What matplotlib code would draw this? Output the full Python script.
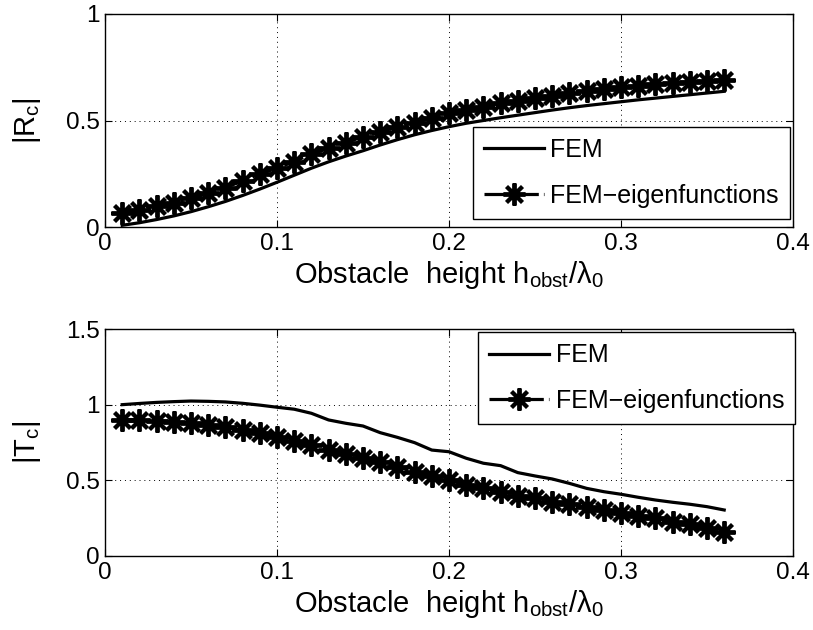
import numpy as np
import matplotlib
matplotlib.use("Agg")
import matplotlib.pyplot as plt

plt.rcParams['font.family'] = ['Liberation Sans', 'DejaVu Sans']
plt.rcParams['mathtext.fontset'] = 'custom'
plt.rcParams['mathtext.rm'] = 'Liberation Sans'
plt.rcParams['mathtext.it'] = 'Liberation Sans'
plt.rcParams['mathtext.bf'] = 'Liberation Sans:bold'

# ---- data ----
h = [round(0.01 * i, 2) for i in range(1, 37)]

R_fem = [0.008, 0.020, 0.035, 0.052, 0.072, 0.095, 0.120, 0.148, 0.178, 0.210,
         0.243, 0.276, 0.306, 0.333, 0.358, 0.385, 0.410, 0.433, 0.453, 0.471,
         0.487, 0.500, 0.513, 0.525, 0.537, 0.549, 0.560, 0.570, 0.579, 0.588,
         0.597, 0.605, 0.613, 0.621, 0.629, 0.637]
R_eig = [0.067, 0.080, 0.099, 0.114, 0.135, 0.158, 0.185, 0.216, 0.249, 0.276,
         0.307, 0.343, 0.369, 0.396, 0.424, 0.447, 0.471, 0.490, 0.510, 0.534,
         0.549, 0.565, 0.581, 0.593, 0.604, 0.615, 0.628, 0.638, 0.648, 0.656,
         0.663, 0.671, 0.677, 0.682, 0.687, 0.690]

T_fem = [1.000, 1.008, 1.015, 1.020, 1.024, 1.022, 1.018, 1.009, 0.997, 0.983,
         0.970, 0.943, 0.899, 0.877, 0.859, 0.815, 0.784, 0.749, 0.700, 0.689,
         0.646, 0.613, 0.597, 0.551, 0.529, 0.509, 0.480, 0.447, 0.425, 0.408,
         0.388, 0.370, 0.355, 0.342, 0.326, 0.304]
T_eig = [0.899, 0.899, 0.894, 0.888, 0.877, 0.866, 0.850, 0.833, 0.811, 0.789,
         0.762, 0.734, 0.701, 0.674, 0.650, 0.619, 0.590, 0.557, 0.529, 0.502,
         0.469, 0.447, 0.425, 0.397, 0.381, 0.359, 0.344, 0.322, 0.304, 0.286,
         0.266, 0.249, 0.227, 0.210, 0.183, 0.161]

xticks = [0, 0.1, 0.2, 0.3, 0.4]
xticklabels = ['0', '0.1', '0.2', '0.3', '0.4']
R_yticks = [0, 0.5, 1]
R_yticklabels = ['0', '0.5', '1']
T_yticks = [0, 0.5, 1, 1.5]
T_yticklabels = ['0', '0.5', '1', '1.5']

labels = ['FEM', 'FEM\u2212eigenfunctions']
xlabel = 'Obstacle  height h$_{\\mathrm{obst}}$/$\\lambda_{0}$'

W, H = 813, 630
fig = plt.figure(figsize=(W / 100, H / 100), dpi=100)

def px_axes(x0, y0, x1, y1):
    return fig.add_axes([x0 / W, 1 - y1 / H, (x1 - x0) / W, (y1 - y0) / H])

ax1 = px_axes(105, 14, 793, 227)
ax2 = px_axes(105, 329, 793, 556)

star = (8, 2, 0)

def style(ax, yticks, yticklabels, ylim, ylabel, legbox):
    ax.set_xlim(0, 0.4)
    ax.set_ylim(*ylim)
    ax.set_xticks(xticks)
    ax.set_xticklabels(xticklabels)
    ax.set_yticks(yticks)
    ax.set_yticklabels(yticklabels)
    ax.tick_params(direction='in', length=5, width=0.8, top=True, right=True,
                   labelsize=17.5, pad=4)
    ax.grid(True, linestyle=(0, (1, 4)), color='black', linewidth=0.7)
    for s in ax.spines.values():
        s.set_linewidth(1.0)
    ax.set_xlabel(xlabel, fontsize=21)
    ax.xaxis.label.set_va('baseline')
    ax.set_ylabel(ylabel, fontsize=21)
    ax.yaxis.set_label_coords(-0.113, 0.5)
    ax.yaxis.label.set_va('center')
    leg = ax.legend(labels, loc='upper left',
                    bbox_to_anchor=(legbox[0] / W, 1 - legbox[1] / H),
                    bbox_transform=fig.transFigure,
                    fontsize=18, frameon=True, fancybox=False, edgecolor='black',
                    framealpha=1, handlelength=2.4, handletextpad=0.25,
                    borderpad=0.45, labelspacing=0.86, borderaxespad=0)
    leg.get_frame().set_linewidth(1.0)

for ax, fem, eig in ((ax1, R_fem, R_eig), (ax2, T_fem, T_eig)):
    ax.plot(h, fem, color='black', linewidth=2.3, linestyle='-')
    ax.plot(h, eig, color='black', linewidth=2.3, linestyle='-.',
            marker=star, markersize=16, markeredgewidth=2.8)

style(ax1, R_yticks, R_yticklabels, (0, 1), '|R$_{\\mathrm{c}}$|', (473, 127))
style(ax2, T_yticks, T_yticklabels, (0, 1.5), '|T$_{\\mathrm{c}}$|', (478, 332))

# place x labels at baseline offsets measured from the axes bottom
for ax, top, bottom in ((ax1, 14, 227), (ax2, 329, 556)):
    ax.xaxis.set_label_coords(0.5, -(283 - 227) / (bottom - top))

fig.savefig('out.png', dpi=100)
